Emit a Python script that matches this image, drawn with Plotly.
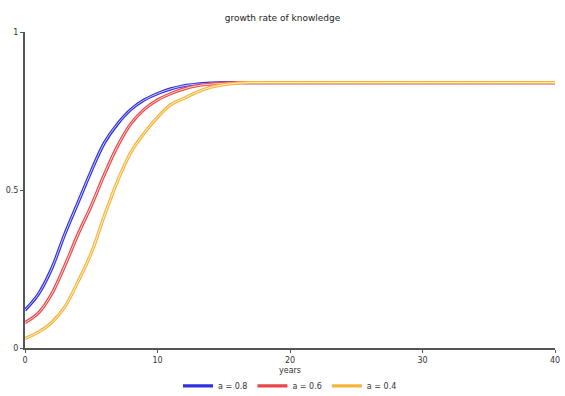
import plotly.graph_objects as go

years = list(range(0, 41))
blue_vals = [0.12, 0.17, 0.25, 0.36, 0.46, 0.56, 0.65, 0.71, 0.755, 0.785, 0.805, 0.82, 0.83, 0.835, 0.838] + [0.84] * 26
red_vals = [0.08, 0.11, 0.17, 0.26, 0.36, 0.45, 0.55, 0.64, 0.71, 0.755, 0.785, 0.805, 0.82, 0.83, 0.835, 0.838] + [0.84] * 25
yellow_vals = [0.03, 0.05, 0.08, 0.13, 0.21, 0.30, 0.42, 0.53, 0.62, 0.68, 0.73, 0.77, 0.79, 0.81, 0.825, 0.833, 0.838] + [0.84] * 24
series_names = ["a = 0.8", "a = 0.6", "a = 0.4"]
colors = ["#3030e0", "#e84848", "#f5b53a"]
x_ticks = [0, 10, 20, 30, 40]
x_tick_labels = ["0", "10", "20", "30", "40"]
y_ticks = [0, 0.5, 1]
y_tick_labels = ["0", "0.5", "1"]

fig = go.Figure()
for name, vals, col in zip(series_names, [blue_vals, red_vals, yellow_vals], colors):
    fig.add_trace(go.Scatter(x=years, y=vals, mode="lines", name=name,
                             line=dict(color=col, width=3.2, shape="spline")))
    fig.add_trace(go.Scatter(x=years, y=vals, mode="lines", showlegend=False,
                             hoverinfo="skip",
                             line=dict(color="rgba(255,255,255,0.75)", width=1, shape="spline")))

fig.update_layout(
    width=565, height=396,
    margin=dict(l=25, r=10, t=32, b=48, autoexpand=False),
    paper_bgcolor="white", plot_bgcolor="white",
    title=dict(text="growth rate of knowledge", x=0.5, xanchor="center", y=0.955, yanchor="middle",
               font=dict(size=9, color="#222", family="DejaVu Sans")),
    font=dict(family="DejaVu Sans", size=8, color="#333"),
    xaxis=dict(range=[0, 40], tickvals=x_ticks, ticktext=x_tick_labels, showgrid=False,
               zeroline=False, showline=True, linecolor="#555", linewidth=2,
               ticks="outside", ticklen=3, tickcolor="#555", automargin=False,
               title=dict(text="years", font=dict(size=8), standoff=4)),
    yaxis=dict(range=[0, 1], tickvals=y_ticks, ticktext=y_tick_labels, showgrid=False,
               zeroline=False, showline=True, linecolor="#555", linewidth=2,
               ticks="outside", ticklen=3, tickcolor="#555", automargin=False),
    legend=dict(orientation="h", x=0.5, xanchor="center", y=-0.12, yanchor="middle",
                font=dict(size=8), itemwidth=30, tracegroupgap=0),
)

fig.write_html("out.html")
